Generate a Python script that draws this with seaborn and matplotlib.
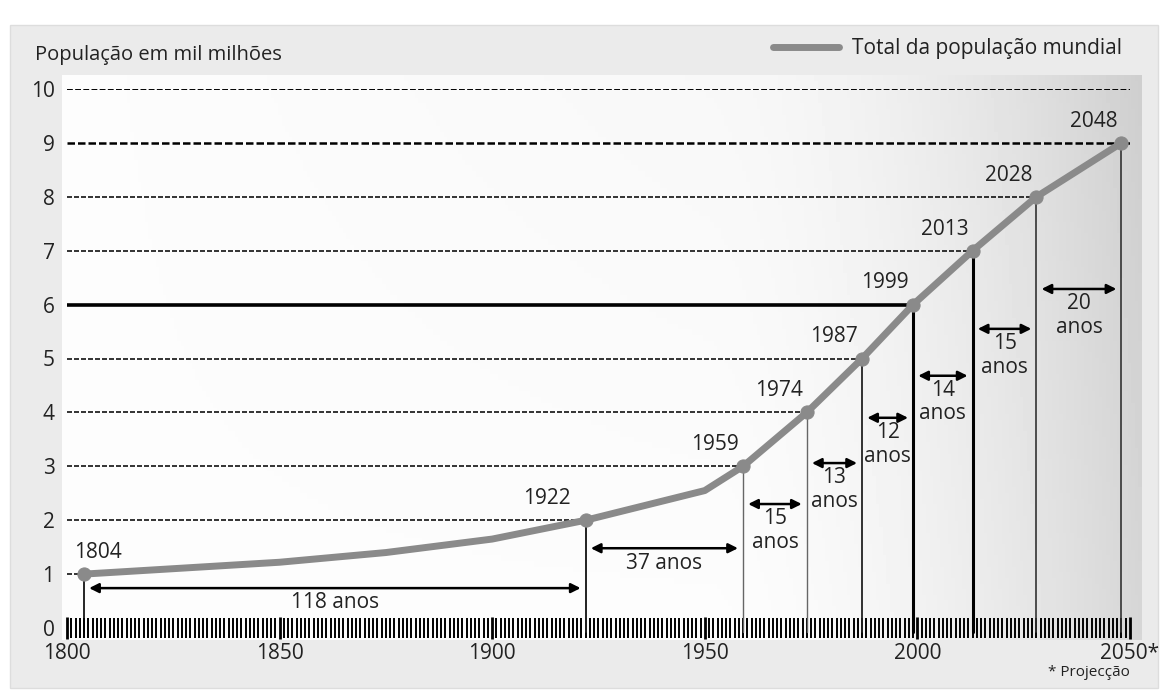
import numpy as np
import matplotlib
matplotlib.use("Agg")
import matplotlib.pyplot as plt
from matplotlib.patches import Rectangle
from matplotlib.ticker import MultipleLocator
import seaborn as sns

# curve of the world population (thousand millions)
curve_years = [1804, 1850, 1875, 1900, 1922, 1950, 1959, 1974, 1987, 1999, 2013, 2028, 2048]
curve_pop = [1.0, 1.22, 1.4, 1.65, 2.0, 2.55, 3, 4, 5, 6, 7, 8, 9]

# each new thousand million
milestone_years = [1804, 1922, 1959, 1974, 1987, 1999, 2013, 2028, 2048]
milestone_pop = [1, 2, 3, 4, 5, 6, 7, 8, 9]

interval_labels = ["118 anos", "37 anos", "15\nanos", "13\nanos", "12\nanos",
                   "14\nanos", "15\nanos", "20\nanos"]
arrow_levels = [0.74, 1.48, 2.3, 3.06, 3.9, 4.68, 5.55, 6.29]

x_ticks = [1800, 1850, 1900, 1950, 2000, 2050]
x_tick_labels = ["1800", "1850", "1900", "1950", "2000", "2050*"]

sns.set_style("white")
plt.rcParams["font.family"] = ["Open Sans", "DejaVu Sans"]

fig = plt.figure(figsize=(11.62, 6.93), dpi=100)
W, H = 1162, 693
FS = 15

# grey panel and white plotting area with a soft gradient to the right
fig.patches.append(Rectangle((10 / W, 5 / H), 1148 / W, 663 / H, transform=fig.transFigure,
                             facecolor="#ebebeb", edgecolor="#dddddd", zorder=-3))
bg = fig.add_axes([62 / W, 1 - 640 / H, 1080 / W, 565 / H], zorder=-2)
gx = np.linspace(0, 1, 300)
gy = np.linspace(0, 1, 100)
GX, GY = np.meshgrid(gx, gy)
shade = 0.99 - 0.15 * np.clip((GX - 0.6) / 0.4, 0, 1) ** 1.8 - 0.03 * GY * GX
bg.imshow(shade, cmap="gray", vmin=0, vmax=1, aspect="auto", extent=[0, 1, 0, 1], origin="lower")
bg.axis("off")

ax = fig.add_axes([67 / W, 1 - 628 / H, 1063 / W, 539 / H])
ax.set_facecolor("none")
ax.set_xlim(1800, 2050)
ax.set_ylim(0, 10)

# horizontal guide lines up to the point where each level is reached
for yr, p in zip(milestone_years, milestone_pop):
    if p == 6:
        ax.plot([1800, yr], [p, p], color="black", lw=2.6, solid_capstyle="butt", zorder=2)
    elif p == 9:
        ax.plot([1800, 2050], [p, p], color="black", lw=1.8, ls=(0, (3, 1.2)), zorder=2)
    else:
        ax.plot([1800, yr], [p, p], color="#111111", lw=1.2, ls=(0, (3, 1.2)), zorder=2)
ax.plot([1800, 2050], [10, 10], color="black", lw=1.4, ls=(0, (3, 1.2)), zorder=2)

# vertical drop lines
drop_widths = [1.2, 1.4, 1.0, 1.0, 1.3, 2.2, 2.2, 1.2, 1.2]
drop_colors = ["black", "#222222", "#666666", "#666666", "#222222", "black", "black", "#333333", "#333333"]
for yr, p, lw, c in zip(milestone_years, milestone_pop, drop_widths, drop_colors):
    ax.plot([yr, yr], [-0.07, p], color=c, lw=lw, zorder=3, clip_on=False)

# population curve and milestone points
sns.lineplot(x=curve_years, y=curve_pop, ax=ax, color="#8a8a8a", lw=5,
             label="Total da população mundial", zorder=4)
sns.scatterplot(x=milestone_years, y=milestone_pop, ax=ax, color="#8a8a8a", s=90,
                edgecolor="#8a8a8a", zorder=5, legend=False)

for yr, p in zip(milestone_years, milestone_pop):
    if yr == 1804:
        ax.annotate(str(yr), (yr, p), xytext=(-7, 8), textcoords="offset points",
                    ha="left", va="bottom", fontsize=FS, color="#222222")
    elif yr == 1922:
        ax.annotate(str(yr), (yr, p), xytext=(-11, 8), textcoords="offset points",
                    ha="right", va="bottom", fontsize=FS, color="#222222")
    else:
        ax.annotate(str(yr), (yr, p), xytext=(-3, 8), textcoords="offset points",
                    ha="right", va="bottom", fontsize=FS, color="#222222")

# intervals between milestones
for i, (lab, lev) in enumerate(zip(interval_labels, arrow_levels)):
    x0, x1 = milestone_years[i], milestone_years[i + 1]
    ax.annotate("", xy=(x1 - 1.2, lev), xytext=(x0 + 1.2, lev),
                arrowprops=dict(arrowstyle="<|-|>", color="black", lw=1.8,
                                mutation_scale=14, shrinkA=0, shrinkB=0), zorder=6)
    ax.text((x0 + x1) / 2, lev - 0.08, lab, ha="center", va="top", fontsize=FS,
            color="#222222", linespacing=1.15)

# axes styling
sns.despine(ax=ax, left=True, bottom=True)
ax.set_xticks(x_ticks)
ax.set_xticklabels(x_tick_labels, fontsize=FS, color="#222222")
ax.xaxis.set_minor_locator(MultipleLocator(1))
ax.tick_params(axis="x", which="both", bottom=True)
ax.tick_params(axis="x", which="major", direction="inout", length=16, width=2.0, pad=3, color="black")
ax.tick_params(axis="x", which="minor", direction="inout", length=14, width=1.4, color="black")
ax.set_yticks(range(0, 11))
ax.tick_params(axis="y", length=0, pad=9, labelsize=FS, labelcolor="#222222")
ax.set_xlabel("")
ax.set_ylabel("")

fig.text(35 / W, 1 - 55 / H, "População em mil milhões", fontsize=14.5, color="#222222",
         ha="left", va="center")
ax.legend(loc="lower right", bbox_to_anchor=(1.01, 1.02), frameon=False, fontsize=FS,
          handlelength=3.2, handletextpad=0.6, labelcolor="#222222")
fig.text(1130 / W, 1 - 673 / H, "* Projecção", fontsize=11, color="#222222",
         ha="right", va="center")

fig.savefig("out.png", dpi=100)
